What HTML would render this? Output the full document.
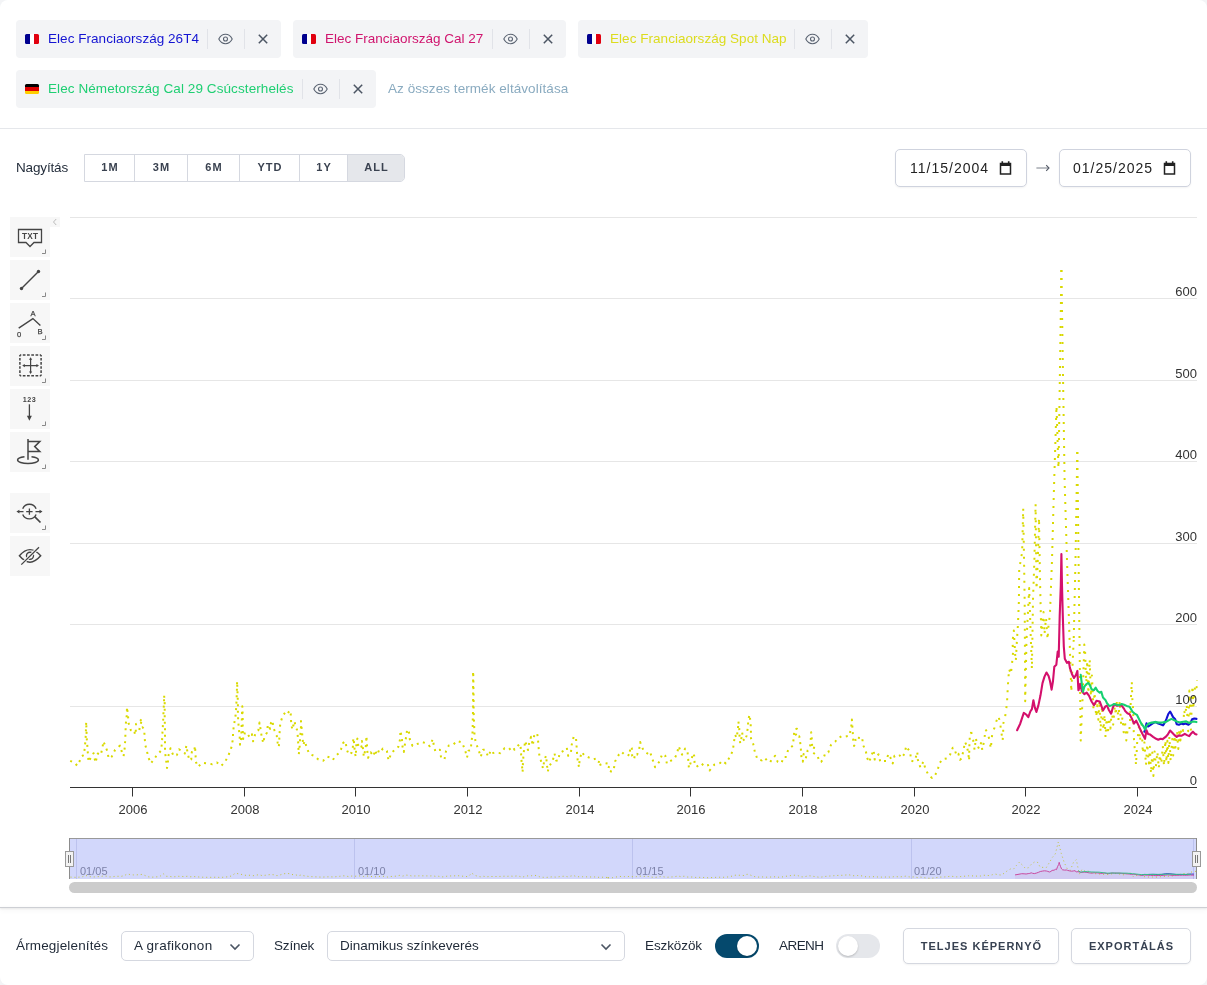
<!DOCTYPE html>
<html lang="hu">
<head>
<meta charset="utf-8">
<title>Chart</title>
<style>
*{box-sizing:border-box;margin:0;padding:0}
html,body{width:1207px;height:985px;overflow:hidden;background:#f3f4f6;font-family:"Liberation Sans",sans-serif;color:#1f2937}
#page{position:absolute;left:0;top:0;width:1207px;height:985px;background:#fff;border-radius:8px;overflow:hidden}
.abs{position:absolute}
.chip{position:absolute;height:38px;background:#f3f4f6;border-radius:4px}
.chip .flag{position:absolute;left:9px;top:14px;width:14px;height:10px;border-radius:1.5px;overflow:hidden}
.chip .lbl{position:absolute;left:32px;top:0;line-height:38px;font-size:13.5px;white-space:nowrap}
.chip .sep{position:absolute;top:9px;width:1px;height:20px;background:#e1e3e8}
.chip svg.eye{position:absolute;top:13px;width:15px;height:12px}
.chip svg.x{position:absolute;top:14px;width:10px;height:10px}
.fr{background:linear-gradient(90deg,#00008f 0,#00008f 33.3%,#fff 33.3%,#fff 66.6%,#e1000f 66.6%)}
.de{background:linear-gradient(180deg,#000 0,#000 33.3%,#dd0000 33.3%,#dd0000 66.6%,#ffce00 66.6%)}
#topline{position:absolute;left:0;top:128px;width:1207px;height:1px;background:#e5e7eb}
.lab{position:absolute;font-size:13.5px;line-height:20px;white-space:nowrap;color:#1f2937}
#zoomgrp{position:absolute;left:84px;top:154px;width:321px;height:28px;border:1px solid #d5d8e0;border-radius:0 5px 5px 0;overflow:hidden;background:#fff}
#zoomgrp div{position:absolute;top:0;height:26px;line-height:24px;text-align:center;font-size:11px;font-weight:bold;letter-spacing:1px;text-indent:1px;color:#3a4250;border-left:1px solid #d5d8e0}
#zoomgrp div:first-child{border-left:none}
.date{position:absolute;top:149px;width:132px;height:38px;border:1px solid #cfd3de;border-radius:5px;background:#fff;box-shadow:0 1px 2px rgba(0,0,0,.05)}
.date span{position:absolute;left:13px;top:0;line-height:36px;font-size:14px;letter-spacing:1px;color:#222}
.date svg{position:absolute;left:103px;top:11px;width:13px;height:14px}
.tb{position:absolute;left:10px;width:40px;height:40px;background:#f7f7f7}
.tb svg{position:absolute;left:0;top:0;width:40px;height:40px}
#bottomline{position:absolute;left:0;top:907px;width:1207px;height:1px;background:#cdcfd4;box-shadow:0 1px 2px rgba(0,0,0,.12),0 2px 5px rgba(0,0,0,.10)}
.sel{position:absolute;top:931px;height:30px;border:1px solid #d5d8e0;border-radius:5px;background:#fff;font-size:13.5px;line-height:28px;padding-left:12px;color:#1f2937;white-space:nowrap}
.sel svg{position:absolute;right:12.5px;top:10.5px;width:12px;height:8px}
.tog{position:absolute;top:934px;width:44px;height:24px;border-radius:12px}
.tog i{position:absolute;top:2px;width:20px;height:20px;border-radius:10px;background:#fff;box-shadow:0 1px 2px rgba(0,0,0,.2)}
.btn{position:absolute;top:928px;height:36px;border:1px solid #d5d8e0;border-radius:5px;background:#fff;font-size:11px;font-weight:bold;letter-spacing:1px;text-indent:1px;line-height:34px;text-align:center;color:#374151;white-space:nowrap;box-shadow:0 1px 2px rgba(0,0,0,.05)}
</style>
</head>
<body>
<div id="page">

<!-- CHIPS -->
<div class="chip" style="left:16px;top:20px;width:265px">
  <div class="flag fr"></div><div class="lbl" style="color:#1414d2;letter-spacing:.04px">Elec Franciaország 26T4</div>
  <div class="sep" style="left:191px"></div><div class="sep" style="left:228px"></div>
  <svg class="eye" style="left:202px" viewBox="0 0 15 12"><path d="M.8 6C2.3 3 4.8 1.3 7.5 1.3S12.700 3 14.2 6C12.700 9 10.2 10.700 7.500 10.700S2.300 9 .8 6Z" fill="none" stroke="#5b6472" stroke-width="1.100"/><circle cx="7.500" cy="6" r="2" fill="none" stroke="#5b6472" stroke-width="1.100"/></svg>
  <svg class="x" style="left:242px" viewBox="0 0 10 10"><path d="M.8.8 9.200 9.200M9.200.8.800 9.200" stroke="#4b5563" stroke-width="1.500" fill="none"/></svg>
</div>
<div class="chip" style="left:293px;top:20px;width:273px">
  <div class="flag fr"></div><div class="lbl" style="color:#d0146e">Elec Franciaország Cal 27</div>
  <div class="sep" style="left:199px"></div><div class="sep" style="left:236px"></div>
  <svg class="eye" style="left:210px" viewBox="0 0 15 12"><path d="M.8 6C2.3 3 4.8 1.3 7.5 1.3S12.700 3 14.2 6C12.700 9 10.2 10.700 7.500 10.700S2.300 9 .8 6Z" fill="none" stroke="#5b6472" stroke-width="1.100"/><circle cx="7.500" cy="6" r="2" fill="none" stroke="#5b6472" stroke-width="1.100"/></svg>
  <svg class="x" style="left:250px" viewBox="0 0 10 10"><path d="M.8.8 9.200 9.200M9.200.8.800 9.200" stroke="#4b5563" stroke-width="1.500" fill="none"/></svg>
</div>
<div class="chip" style="left:578px;top:20px;width:290px">
  <div class="flag fr"></div><div class="lbl" style="color:#dcdc1e;letter-spacing:.04px">Elec Franciaország Spot Nap</div>
  <div class="sep" style="left:216px"></div><div class="sep" style="left:253px"></div>
  <svg class="eye" style="left:227px" viewBox="0 0 15 12"><path d="M.8 6C2.3 3 4.8 1.3 7.5 1.3S12.700 3 14.2 6C12.700 9 10.2 10.700 7.500 10.700S2.300 9 .8 6Z" fill="none" stroke="#5b6472" stroke-width="1.100"/><circle cx="7.500" cy="6" r="2" fill="none" stroke="#5b6472" stroke-width="1.100"/></svg>
  <svg class="x" style="left:267px" viewBox="0 0 10 10"><path d="M.8.8 9.200 9.200M9.200.8.800 9.200" stroke="#4b5563" stroke-width="1.500" fill="none"/></svg>
</div>
<div class="chip" style="left:16px;top:70px;width:360px">
  <div class="flag de"></div><div class="lbl" style="color:#1fcf73;letter-spacing:.085px">Elec Németország Cal 29 Csúcsterhelés</div>
  <div class="sep" style="left:286px"></div><div class="sep" style="left:323px"></div>
  <svg class="eye" style="left:297px" viewBox="0 0 15 12"><path d="M.8 6C2.3 3 4.8 1.3 7.5 1.3S12.700 3 14.2 6C12.700 9 10.2 10.700 7.500 10.700S2.300 9 .8 6Z" fill="none" stroke="#5b6472" stroke-width="1.100"/><circle cx="7.500" cy="6" r="2" fill="none" stroke="#5b6472" stroke-width="1.100"/></svg>
  <svg class="x" style="left:337px" viewBox="0 0 10 10"><path d="M.8.8 9.200 9.200M9.200.8.800 9.200" stroke="#4b5563" stroke-width="1.500" fill="none"/></svg>
</div>
<div class="lab" id="removeall" style="left:388px;top:79px;color:#8aabc0;font-size:13.5px;letter-spacing:.06px">Az összes termék eltávolítása</div>
<div id="topline"></div>

<!-- ZOOM ROW -->
<div class="lab" id="nagy" style="left:16px;top:158px;letter-spacing:-.15px">Nagyítás</div>
<div id="zoomgrp">
  <div style="left:0;width:49px">1M</div>
  <div style="left:49px;width:53px">3M</div>
  <div style="left:102px;width:52px">6M</div>
  <div style="left:154px;width:60px">YTD</div>
  <div style="left:214px;width:48px">1Y</div>
  <div style="left:262px;width:57px;background:#e5e7eb">ALL</div>
</div>
<div class="date" style="left:895px"><span style="left:14px">11/15/2004</span>
  <svg viewBox="0 0 13 14"><path d="M1.500 2.500h10v10.500h-10z" fill="none" stroke="#222" stroke-width="1.500"/><path d="M1.500 2h10v3h-10z" fill="#222"/><path d="M3.300.3v2.500M9.700.3v2.500" stroke="#222" stroke-width="1.600"/></svg></div>
<svg class="abs" style="left:1034px;top:160px" width="18" height="16" viewBox="0 0 18 16"><path d="M2.400 8H14.600" stroke="#7b808a" stroke-width="1" fill="none"/><path d="M12.200 5.100 15 8 12.200 10.900" stroke="#555b68" stroke-width="1.100" fill="none"/></svg>
<div class="date" style="left:1059px"><span>01/25/2025</span>
  <svg viewBox="0 0 13 14"><path d="M1.500 2.500h10v10.500h-10z" fill="none" stroke="#222" stroke-width="1.500"/><path d="M1.500 2h10v3h-10z" fill="#222"/><path d="M3.300.3v2.500M9.700.3v2.500" stroke="#222" stroke-width="1.600"/></svg></div>

<!-- TOOLBAR -->
<div class="abs" style="left:50px;top:217px;width:10px;height:10px;background:#f7f7f7"><svg class="abs" style="left:0;top:0" width="10" height="10" viewBox="0 0 10 10"><path d="M6.200 2 3.500 5 6.200 8" fill="none" stroke="#bbb" stroke-width="1"/></svg></div>
<div class="tb" style="top:217px"><svg viewBox="0 0 40 40"><path d="M8.500 12.500H31.500V25.500H24L20 29.500 16 25.500H8.500Z" fill="none" stroke="#444" stroke-width="1.300" stroke-linejoin="miter"/><text x="20.100" y="22.200" font-size="8.200" font-weight="bold" text-anchor="middle" fill="#444" font-family="Liberation Sans, sans-serif" letter-spacing="0.200">TXT</text><path d="M35.500 32.500V36.500H32" fill="none" stroke="#888" stroke-width="1"/></svg></div>
<div class="tb" style="top:260px"><svg viewBox="0 0 40 40"><path d="M11.500 28.500 28.500 11.500" stroke="#444" stroke-width="1.400" fill="none"/><circle cx="11.500" cy="28.500" r="1.700" fill="#444"/><circle cx="28.500" cy="11.500" r="1.700" fill="#444"/><path d="M35.500 32.500V36.500H32" fill="none" stroke="#888" stroke-width="1"/></svg></div>
<div class="tb" style="top:303px"><svg viewBox="0 0 40 40"><path d="M8.700 25.200 22.900 15.600 30.400 22.400" stroke="#444" stroke-width="1.400" fill="none" stroke-linejoin="miter"/><g font-size="7.600" fill="#444" stroke="#444" stroke-width="0.250" font-family="Liberation Sans, sans-serif" text-anchor="middle"><text x="23" y="12.500">A</text><text x="9.100" y="33.700">0</text><text x="30.100" y="30.800">B</text></g><path d="M35.500 32.500V36.500H32" fill="none" stroke="#888" stroke-width="1"/></svg></div>
<div class="tb" style="top:346px"><svg viewBox="0 0 40 40"><path d="M9.900 9.100H31.100M9.900 29.700H31.100" fill="none" stroke="#444" stroke-width="1.500" stroke-dasharray="2.700,1.540" stroke-dashoffset="1.350"/><path d="M9.900 9.100V29.700M31.100 9.100V29.700" fill="none" stroke="#444" stroke-width="1.500" stroke-dasharray="2.600,1.520" stroke-dashoffset="1.300"/><path d="M14 19.600H27.200M20.600 13V26.200" stroke="#444" stroke-width="1.200" fill="none"/><path d="M12.200 19.600 14.800 18V21.200ZM29 19.600 26.400 18V21.200ZM20.600 11.200 19 13.800H22.200ZM20.600 28 19 25.400H22.200Z" fill="#444"/><path d="M35.500 32.500V36.500H32" fill="none" stroke="#888" stroke-width="1"/></svg></div>
<div class="tb" style="top:389px"><svg viewBox="0 0 40 40"><text x="19.600" y="12.800" font-size="7.200" font-weight="bold" text-anchor="middle" fill="#444" font-family="Liberation Sans, sans-serif" letter-spacing="0.500">123</text><path d="M19.400 15.300V28" stroke="#444" stroke-width="1.300" fill="none"/><path d="M16.900 26.800H21.900L19.400 31.800Z" fill="#444"/><path d="M35.500 32.500V36.500H32" fill="none" stroke="#888" stroke-width="1"/></svg></div>
<div class="tb" style="top:432px"><svg viewBox="0 0 40 40"><path d="M18 7.100V27.800" stroke="#444" stroke-width="1.500" fill="none"/><path d="M18 9.600H29.800L24.700 14.600 29.800 19.600H18" stroke="#444" stroke-width="1.500" fill="none" stroke-linejoin="miter"/><path d="M14.500 24.700C10.500 25.100 7.600 26.400 7.600 28 7.600 29.900 12.300 31.500 18 31.500S28.400 29.900 28.400 28C28.400 26.400 25.500 25.100 21.500 24.700" fill="none" stroke="#444" stroke-width="1.500"/><path d="M35.500 32.500V36.500H32" fill="none" stroke="#888" stroke-width="1"/></svg></div>
<div class="tb" style="top:493px"><svg viewBox="0 0 40 40"><path d="M12.700 15.700A7.300 7.300 0 0 1 26.100 15.700M26.100 21.500A7.300 7.300 0 0 1 12.700 21.500" fill="none" stroke="#444" stroke-width="1.400"/><path d="M16.200 18.600H22.600M19.400 15.400V21.800" stroke="#444" stroke-width="1.300" fill="none"/><path d="M8.500 18.600H13.500M25.500 18.600H30.500" stroke="#444" stroke-width="1.300" fill="none"/><path d="M6.400 18.600 9.400 16.700V20.500ZM32.500 18.600 29.500 16.700V20.500Z" fill="#444"/><path d="M24.900 23.900 30.500 29.500" stroke="#444" stroke-width="1.700" fill="none"/><path d="M35.500 32.500V36.500H32" fill="none" stroke="#888" stroke-width="1"/></svg></div>
<div class="tb" style="top:536px"><svg viewBox="0 0 40 40"><path d="M9.400 19.800C13 15.600 16 13.600 20 13.600S27 15.600 30.700 19.800C27 24 24 26.200 20 26.200S13 24 9.400 19.800Z" fill="none" stroke="#444" stroke-width="1.400" stroke-linejoin="miter"/><circle cx="20" cy="19.800" r="3.500" fill="none" stroke="#444" stroke-width="1.400"/><path d="M11.300 28.600 29 11.200" stroke="#f7f7f7" stroke-width="3.200" fill="none"/><path d="M11.300 28.600 29 11.200" stroke="#444" stroke-width="1.300" fill="none"/></svg></div>

<!-- CHART -->
<svg id="chart" class="abs" style="left:0;top:200px" width="1207" height="705" viewBox="0 200 1207 705" font-family="Liberation Sans, sans-serif">
<path d="M70 217.5H1197M70 298.5H1197M70 380.5H1197M70 461.5H1197M70 543.5H1197M70 624.5H1197M70 706.5H1197" stroke="#e6e6e6" stroke-width="1" fill="none"/>
<path d="M70.2 760.8 74.5 762.7 77.2 765.7 79.8 760.8 81.3 756.6 83.9 755 84.8 747.4 85.6 738.8 85.9 730.7 86.2 721.9 86.5 730.7 86.8 738.8 87.4 746.7 87.9 754.3 88.6 761.9 90.9 757.3 93.5 753.2 95.5 762.7 97.8 753.5 100.8 755 102.6 746.7 103.4 741.3 105.7 747 107.2 750.8 108.7 758.5 111.8 756.6 115.1 749.7 120.1 745.6 122.1 752.8 123.6 756.1 124.7 748.2 125.2 740.1 125.5 732.2 125.8 724.1 126.7 715.5 127 707.1 128 715.5 128.5 723.1 129.6 725.8 130.8 730.2 134.1 729.8 135.1 734.9 135.7 732.2 136.1 723.8 138.7 722.6 142.2 718.5 139.9 726.9 139.2 730.4 142.5 727.3 144.2 729.2 144.6 737.2 145.3 745.1 146.8 750.5 148.3 757.3 150.9 763.4 152.9 760.7 156.2 756.1 160.9 750.8 162 742.9 162.3 734.9 162.8 726.9 163.2 719.3 163.5 711.4 164 703.3 164.1 695.2 164.7 703.6 164.7 711.7 164.7 719.7 165 727.6 165 736 165 743.9 165 752 166.1 759.9 167 768 167.8 764.2 168.2 756.6 170.5 748.2 170.8 749.7 173.7 756.1 176.9 755 179 749.3 182.1 751.2 184.8 753.5 186.4 745.5 187.6 753.1 189.4 760.4 191.2 759.6 191.8 752 194 752.3 195 745.9 195.5 754.3 195.9 761.9 197.9 766.8 202.6 762.7 208 763.4 212.2 764.2 216.9 762.4 221 766 224.9 762.2 228.6 755 231.3 747.7 232.8 739.8 233.1 731.9 234.1 724.1 235.6 715.5 236.2 707.5 236.6 698.7 236.9 690.3 237.1 681.2 237.4 689.6 237.7 697.2 237.9 704.8 237.9 713.2 238.2 721.1 238.9 729.2 239.7 737.5 240 744.8 241.2 738.3 241.5 730.7 241.7 722.8 242 714.7 242.3 706.3 242.7 714.7 242.7 722.3 242.7 729.9 243.2 739.1 245 732.2 247.8 734.5 249.9 737.5 251.9 734.2 253.1 741.3 255.4 733.3 258.4 730.2 259.5 722.6 260.7 729.9 261.8 737.5 263.3 743.2 264.5 736.3 267.1 732.5 267.8 724.6 270.1 728.9 270.9 723.1 272.4 720.5 273.6 728.4 276.7 735.3 277.7 742.9 278.8 747 279.3 739.1 279.7 731.1 280.3 723.1 282.8 715.8 286.6 710.6 288.4 712.4 289.9 710.4 290.7 713.9 291.1 721.6 292.2 729.6 294.5 721.2 295.3 725.1 297.1 730.2 298 738.3 298.3 746.2 298.8 754.3 299.8 745.1 300.1 737.1 300.9 729.2 301 721.1 301.8 729.9 302.6 738.3 303.2 745.1 304.8 740.9 307 748.6 309.4 754 314 755.8 318.4 759.6 323.1 760.8 327.2 756.6 329.5 757.3 333 759.9 334.8 756.6 338.6 753.5 340.9 749.7 343.2 742.9 345.5 741.3 346.7 749.3 348.8 754.7 351.6 752.8 352.8 748.6 353.1 740.9 353.6 738 354.3 746.2 355.1 754 355.8 756.6 356.1 749 356.6 740.6 357.4 738.6 358.4 746.7 360 745.1 361.5 746.7 361.9 740.9 363 749 363.8 756.6 365 751.2 365.3 751.2 366.1 743.2 366.4 736 366.9 742.1 367.2 750 368.1 757.8 370.7 752.3 373.7 756.1 374.8 750 377.1 755 378.6 751.2 379.8 752.8 382.8 748.6 386.9 750.8 388.5 760.4 391.7 752.3 395 750 398.4 746.7 400.3 738.3 400.3 730.7 401.9 737.5 402.3 745.6 403.8 752 404.9 744.4 406.1 736.8 407.2 729.2 409 732.5 409.9 739.5 412.5 745.9 417.5 743.9 422.4 742.1 427 743.6 429.7 746.2 432.8 739.1 434.1 747 435.4 751.5 439.9 749.7 441.1 757.8 444.5 759.3 446 751.2 448.8 745.5 453.2 744.7 457 740.9 462 742.4 465 749.7 467 757.6 468.5 750.8 470.7 750.2 471.4 742.6 472.4 734.8 472.7 726.9 472.8 718.8 473 710.9 473.1 702.8 473.1 694.9 473.1 686.8 473.1 678.9 473.1 671.3 473.4 678.9 473.4 686.8 473.6 694.9 473.6 702.8 473.6 710.9 473.9 718.8 474.2 726.9 474.5 734.8 475.7 742.6 478.4 749.3 480.7 756.9 483 749.7 484.8 749.7 488.3 756.6 490.5 751.2 490.9 753.5 495.8 752.3 500.4 753.2 504.6 748.2 508.9 749.7 512.7 746.7 514.5 749.7 517.6 745.9 520.4 743.9 521 751.7 521.4 759.6 522.2 767.7 522.6 772.2 522.9 764.2 523.4 756.1 524.2 748.2 525.2 740.9 528 750 529 743.9 531 736.8 532.8 745.6 534.1 736 537.1 733 537.9 738.3 538.5 746.4 539.2 754.3 541.2 761.9 543 768.4 544.3 760.4 546.1 755.5 546.8 763.7 547.8 771.8 548.8 766.9 552.6 761.1 554.5 753.5 556.1 760.4 558.3 760.8 559.5 753.1 563.6 750.8 566.8 747.9 568.2 755.8 570.9 752.8 571.7 744.8 573.6 737.1 575.9 736.8 576.5 744.7 577 752.8 577.7 760.7 579 767.2 579.7 759.3 581.9 752 584.3 755.5 589.2 757.6 593.4 759.3 596.3 758.4 599.1 760.7 598 765.7 604.4 763 609.7 763.9 607.9 770.3 612 771.8 613.8 769.2 615 761.6 618.8 754.7 621.4 751.7 624.2 754.3 626.9 753.8 629.5 755.8 630.3 746.7 631.8 748.2 632.2 756.1 634.1 759.2 635.1 753.8 637.1 754.7 639.1 749.7 640.2 742.1 640.9 744.4 643.5 750.5 648.2 754 650.1 752 652.6 759.6 655.1 767.2 659.6 761.4 662.2 754 665.3 755.8 666.9 763.7 670.2 761.1 674.5 758.5 677.1 753.5 678.6 746.2 682.1 754.7 685.1 748.6 687.4 750.5 688.2 758.8 688.9 768 691.2 761.1 693 753.2 694.3 756.1 694.6 763.9 696.5 766.8 701.4 763.4 704.1 766 708 764.9 709.5 770.6 714.5 764.5 720.1 763 722.1 760.8 725.8 763.4 729.3 757.8 732.8 750.8 733.8 742.9 735.1 734.9 736.6 737.8 737.9 729.5 738.4 721.6 739.2 727.6 739.5 735.6 740.2 743.3 741 740.9 742.2 732.7 743 739.1 744.8 741 746.5 736 747.8 727.9 748.3 720 749.5 714.7 750.6 722.3 750.9 730.4 751 738.3 753.2 743.9 754.8 751.7 757.4 759.2 761.7 760.4 764.7 757.8 767.3 760.8 770.1 762.4 772.2 758.8 775.2 755.8 777.7 761.9 781.5 763 783.6 757 785.9 757 788.3 749.4 792.9 745.6 793.7 737.5 794.4 729.5 797 728.7 795.9 735.3 796.6 737.5 799.3 736.3 800.4 744.1 801.1 752 801.6 759.9 802.8 761.6 803.6 754 805.8 758.4 807.7 750.2 810 747.7 810.7 739.8 811.2 732.2 811.8 739.1 812.2 747 814.5 745.9 812.7 752.3 815.3 754.3 817.6 755.8 819.4 761.6 821.1 761.9 823.4 758.8 825.2 753.2 828.3 752.3 830.9 745.1 835.1 741.8 837.4 738.6 841.7 736.3 845.3 736.5 849.3 735.7 851.1 727.9 851.9 719.6 852.9 734.8 853.4 742.9 854.1 745.9 856.1 742.9 854.9 737.5 859.9 738 862.2 737.2 863 745.1 865.6 750 867.1 757.8 869.1 762.2 870.9 757 873.6 750 874.7 759.6 878.5 754.3 880.3 761.9 883.1 761.1 886.1 761.1 888.4 754 890.2 757 892.7 763.4 894.5 755.8 897.5 756.6 899.8 755.5 901.3 757.8 904.4 754 906.2 746.2 909 750.5 910.2 752.8 911.2 760.7 913.5 761.4 915.8 757.3 917.3 752 917.8 759.6 920.4 767.5 923.4 761.6 925.2 768 928.3 774.8 932.1 777.9 935.1 775.1 937.4 770.7 939.7 763 942.4 759.3 947 758.4 950.1 754.7 952.8 747.7 954.3 748.5 956.6 755.5 958.4 753.8 960 759.9 961.8 758.1 963.5 750 965 742.1 966.8 745.5 968.3 753.5 969.1 760.4 969.4 744.7 969.8 736.8 971.2 732" fill="none" stroke="#d9d900" stroke-width="2" stroke-dasharray="2,4.5" stroke-linejoin="round"/>
<path d="M971.2 732 973.2 740.1 974.6 750.3 975.8 738 977.3 745.2 979.3 749.2 981.3 742.1 982.3 750.3 984.4 739.1 985.4 729.3 987.8 733 989.4 740.1 990.9 748.8 991.5 740.1 992.5 732 994.5 727.9 996.5 720.8 998.6 716.1 1000.2 723.9 1001.6 734 1002.6 740.7 1003.2 733 1003.2 723.9 1005.1 716.8 1006.3 709 1007.1 700.9 1007.9 685.3 1009.1 669 1010.8 674.1 1011.8 666 1013.2 650.8 1012.4 642.6 1013.8 630.5 1015.2 654.8 1015.8 660.9 1016.9 640.6 1017.9 625.4 1018.9 601 1019.2 569 1022.1 552.5 1023.2 508.5 1024 556.9 1024.7 604.4 1025.2 701.3 1026.5 640 1029.2 588 1030.5 630 1031.9 668.9 1033 600 1034.4 560 1035.6 504 1036.5 589 1037.8 560 1039 518 1040 580 1041.3 635.4 1043.5 612 1044.5 634 1046 618 1047.6 639.4 1048.6 624 1049.9 615.6 1052 560 1054 487 1056.5 406 1058.5 470" fill="none" stroke="#d9d900" stroke-width="2" stroke-dasharray="2,6" stroke-linejoin="round"/>
<path d="M1061.4 270 1058.5 470" fill="none" stroke="#d9d900" stroke-width="2" stroke-dasharray="2,6" stroke-linejoin="round"/>
<path d="M1061.4 270 1063.1 381.7 1064.6 480 1067 560 1069.8 646 1071.3 691.8 1073.7 640" fill="none" stroke="#d9d900" stroke-width="2" stroke-dasharray="2,6" stroke-linejoin="round"/>
<path d="M1077.3 452 1075.5 560 1073.7 640" fill="none" stroke="#d9d900" stroke-width="2" stroke-dasharray="2,6" stroke-linejoin="round"/>
<path d="M1077.3 452 1078.8 580 1080.7 740.6 1082.5 700 1084.3 644.6 1085.2 653.2 1086.2 686.5 1087.2 660.7 1088.4 693.5 1089.7 659.6 1090.9 696.4 1091.9 675.4 1093.5 710 1094.5 692.4 1096.2 717 1097.4 705.2 1098.3 719.8 1099.5 700.5 1100.5 731.5 1102 706.1 1103.4 730 1104.6 714.6 1105.5 737.2 1106.6 718.4 1107.8 734.1 1109.2 717.8 1110.4 728.6 1111.8 710.2 1113.2 724.6 1114.8 706 1115.9 715.1 1116.9 700.2 1118.4 720.2 1119.7 700.9 1121.1 724.6 1122.5 717.4 1123.6 732.3 1125 720.5 1126.3 740.4 1127.9 728.1 1129.4 729.5 1130 722 1130.8 700 1131.8 681.6 1132.4 700 1133 708 1134 740 1136 765 1137.2 742 1138.9 727.2 1140 740.9 1141.6 723.6 1142.8 753.3 1144.4 742.4 1146 765.1 1147.2 744 1148.9 763.4 1149.9 746.7 1151 773.5 1152.3 752.5 1153.4 776 1154.6 751.4 1155.9 766.3 1157.4 751.8 1158.8 768.3 1159.7 754.6 1161.3 763.7 1162.8 745.9 1164 766 1165.4 740.1 1166.4 762.3 1167.4 740.7 1168.4 763 1169.4 736.6 1170.6 761 1172.2 739.1 1173.2 755.4 1174.4 735.4 1175.4 747.6 1177.1 732.9 1178.3 748.9 1179.3 728.7 1180.4 740.4 1181.5 723 1183.1 731 1184.1 710 1185.1 714.9 1186.7 704.4 1188.2 731.2 1189.4 690.6 1190.9 729.7 1192.4 686 1193.5 705.4 1195.2 684.1 1196.7 687.3 1197 680" fill="none" stroke="#d9d900" stroke-width="2" stroke-dasharray="2,6" stroke-linejoin="round"/>
<path d="M1144.3 731.7 1145 730.2 1146.5 723.3 1148 726.5 1150.2 725.1 1152.4 723.6 1155.3 721.8 1158.3 723.6 1160.5 724.3 1163 725.4 1164.2 723.6 1166.4 719.2 1168.3 714 1170.1 711.5 1171.5 714 1173 717 1175.2 719.2 1176.7 724.3 1178.9 724.8 1181.1 723.6 1183.3 724.3 1185.5 723.6 1188.5 724.8 1190.7 722.9 1192.1 719.2 1194.3 718.5 1196.5 718.9" fill="none" stroke="#1212d4" stroke-width="2.1" stroke-linejoin="round" stroke-linecap="round"/>
<path d="M1017.1 730.2 1020.2 723.7 1022.2 717.6 1023.8 712.9 1026.2 714.5 1028.3 717.2 1030.3 711.5 1031.9 709.1 1033.4 700.3 1034.8 707.4 1036.4 711.9 1038.4 705.4 1040.5 695.3 1042.5 683.1 1044.5 676.6 1046.5 672.5 1048.6 676 1050 681 1051.6 689.6 1053 681 1054.3 666.8 1056.3 664.8 1057.7 651.6 1058.7 656.7 1059.7 616.1 1060.8 585.6 1061.4 554.1 1062 585.6 1062.8 616.1 1063.8 646.5 1064.8 658.7 1066.9 662.8 1068.9 661.8 1069.9 667.8 1071.9 673.9 1074 678 1076 674.9 1077.4 670.9 1078.4 690.2 1078.6 690.2 1080.2 683.7 1081.8 691 1084.3 694.2 1086.7 692.6 1089.1 695.9 1091.6 701.5 1094 705.1 1096.5 700.7 1099.7 701.5 1101.3 705.6 1103 710.5 1105.4 706.4 1107 705.6 1108.7 709.7 1111.1 713.7 1112.7 708 1114.3 704 1116.8 705.6 1119.2 705.1 1121.7 705.6 1124.1 708.9 1125.2 711.1 1127.4 713.3 1129.6 714.3 1131.8 718.5 1134 723.6 1136.2 720.7 1138.4 725.1 1140.6 730.2 1142.8 734.6 1145 738.8 1146.5 730.2 1148 733.9 1150.2 734.6 1153.1 736.9 1156.1 738.8 1158.3 739.8 1160.5 738.8 1162.7 739.1 1165.6 736.9 1167.8 734.6 1170.1 730.5 1172.3 732.7 1174.5 735.1 1176.7 736.9 1178.9 735.4 1181.8 735.7 1184.8 733.9 1187 735.1 1189.2 736.1 1191.4 733.2 1192.9 731.7 1195.1 733.9 1196.5 734.4" fill="none" stroke="#d4106c" stroke-width="2.1" stroke-linejoin="round" stroke-linecap="round"/>
<path d="M1080.7 674.7 1081.8 683.7 1083 691.8 1084.3 686.9 1085.9 684.5 1088.3 682.8 1090 685.3 1091.6 689.3 1094 690.2 1095.7 687.7 1097.6 691 1099.7 692.6 1101.3 691.8 1103 697.5 1105.4 699.9 1107 703.2 1109.5 706.1 1111.9 705.1 1114.3 704 1116.8 704.8 1119.2 705.1 1121.7 704 1124.1 704.8 1126.6 705.9 1129.6 706.7 1132.5 711.8 1134.7 713.6 1136.9 714.8 1139.1 719.2 1141.3 723.6 1143.6 726.5 1145 729.5 1146.5 725.8 1148.7 723.6 1151.7 722.6 1155.3 722.1 1159 722.6 1162.7 722.4 1165.6 722.1 1168.6 720.4 1171.5 718.9 1174.5 720.4 1177.4 721.7 1180.4 722.4 1183.3 721.8 1186.2 721.4 1189.2 722.9 1191.4 722.1 1193.6 721.4 1196.5 722.1" fill="none" stroke="#16d070" stroke-width="2.1" stroke-linejoin="round" stroke-linecap="round"/>
<path d="M70 787.5H1197M132.5 787.5V796.5M244.5 787.5V796.5M355.5 787.5V796.5M467.5 787.5V796.5M579.5 787.5V796.5M690.5 787.5V796.5M802.5 787.5V796.5M914.5 787.5V796.5M1025.5 787.5V796.5M1137.5 787.5V796.5" stroke="#333" stroke-width="1" fill="none"/>
<g font-size="13" fill="#333" text-anchor="middle"><text x="133" y="814">2006</text><text x="245" y="814">2008</text><text x="356" y="814">2010</text><text x="468" y="814">2012</text><text x="580" y="814">2014</text><text x="691" y="814">2016</text><text x="803" y="814">2018</text><text x="915" y="814">2020</text><text x="1026" y="814">2022</text><text x="1138" y="814">2024</text></g>
<g font-size="13" fill="#333" text-anchor="end"><text x="1197" y="296">600</text><text x="1197" y="378">500</text><text x="1197" y="459">400</text><text x="1197" y="541">300</text><text x="1197" y="622">200</text><text x="1197" y="704">100</text><text x="1197" y="785">0</text></g>
<rect x="69" y="838" width="1128" height="41" fill="#d2d7fb"/>
<path d="M76.500 838V879M354.500 838V879M632.500 838V879M911.500 838V879M1193.500 838V879" stroke="#bcc2ee" stroke-width="1" fill="none"/>
<path d="M1015 874.9 1018 874.4 1020.1 874 1021.7 873.7 1024.1 873.8 1026.1 874 1028.2 873.6 1029.8 873.4 1031.2 872.8 1032.6 873.3 1034.3 873.6 1036.3 873.1 1038.3 872.4 1040.3 871.5 1042.4 871.1 1044.4 870.8 1046.4 871 1047.8 871.4 1049.4 872 1050.9 871.4 1052.1 870.4 1054.1 870.2 1055.5 869.3 1056.5 869.6 1057.5 866.7 1058.6 864.6 1059.2 862.3 1059.8 864.6 1060.6 866.7 1061.6 868.9 1062.6 869.8 1064.6 870.1 1066.7 870 1067.7 870.4 1069.7 870.9 1071.7 871.2 1073.8 870.9 1075.2 870.7 1076.2 872 1076.3 872 1078 871.6 1079.6 872.1 1082 872.3 1084.5 872.2 1086.9 872.4 1089.3 872.9 1091.8 873.1 1094.2 872.8 1097.4 872.9 1099.1 873.1 1100.7 873.5 1103.1 873.2 1104.7 873.1 1106.4 873.4 1108.8 873.7 1110.4 873.3 1112 873 1114.5 873.1 1116.9 873.1 1119.3 873.1 1121.8 873.4 1122.8 873.5 1125 873.7 1127.2 873.8 1129.4 874.1 1131.6 874.4 1133.8 874.2 1136 874.5 1138.2 874.9 1140.4 875.2 1142.6 875.5 1144.1 874.9 1145.6 875.2 1147.8 875.2 1150.7 875.4 1153.7 875.5 1155.9 875.6 1158.1 875.5 1160.3 875.5 1163.2 875.4 1165.4 875.2 1167.6 874.9 1169.8 875.1 1172 875.3 1174.2 875.4 1176.4 875.3 1179.4 875.3 1182.3 875.2 1184.5 875.3 1186.7 875.3 1188.9 875.1 1190.4 875 1192.6 875.2 1194 875.2L1194 879L1015 879Z" fill="#d4106c" fill-opacity="0.06" stroke="none"/>
<path d="M70.5 877.1 73.5 877.2 76.5 877.4 79.5 877.1 82.5 876.7 85.5 875.2 88.5 876.6 91.5 876.8 94.4 876.9 97.4 876.6 100.4 876.7 103.4 875.9 106.4 876.2 109.4 876.9 112.4 876.8 115.4 876.3 121.4 876.3 124.4 875.6 127.4 873.8 130.4 874.7 133.4 874.9 136.4 874.9 139.3 874.6 142.3 874.4 145.3 875.6 148.3 876.8 151.3 877.2 157.3 876.8 160.3 876.1 163.3 873.7 166.3 876.3 169.3 876.4 172.3 876.8 175.3 876.7 178.3 876.3 181.3 876.4 184.2 876.6 187.2 876.3 190.2 876.8 193.2 876.5 196.2 876.8 202.2 877.2 208.2 877.3 211.2 877.3 217.2 877.2 220.2 877.5 223.2 877.2 229.1 876.7 232.1 875.6 235.1 873.3 238.1 873.7 241.1 874.3 244.1 875.3 247.1 875.2 250.1 875.3 253.1 875.7 256.1 875.1 259.1 874.7 262.1 875.6 265.1 875.3 268.1 874.8 271.1 874.5 274 874.8 277 875.7 280 875 283 873.9 286 873.5 289 873.6 292 874.6 295 874.4 298 875.8 301 875 304 875.8 307 876.2 310 876.6 313 876.7 318.9 877 321.9 877.1 327.9 876.8 333.9 876.9 336.9 876.6 339.9 876.3 342.9 875.8 345.9 876 348.9 876.7 351.9 876 354.9 876.3 357.9 875.9 360.9 876 363.8 876.5 366.8 876 369.8 876.5 372.8 876.5 375.8 876.7 378.8 876.5 381.8 876.2 384.8 876.4 387.8 877.1 390.8 876.5 393.8 876.3 396.8 876.1 399.8 875.3 402.8 876.1 405.8 875.1 408.7 875.3 411.7 876 417.7 875.9 420.7 875.8 426.7 875.9 429.7 876 432.7 875.8 435.7 876.4 438.7 876.3 441.7 876.9 444.7 876.7 447.7 876 453.6 875.9 456.6 875.7 459.6 875.8 465.6 876.6 468.6 876.4 471.6 873 474.6 875.2 477.6 876.3 480.6 876.8 483.6 876.3 486.6 876.8 489.6 876.5 495.6 876.5 498.5 876.5 504.5 876.2 507.5 876.3 510.5 876.1 513.5 876.3 516.5 876 519.5 876.4 522.5 877.2 525.5 876 528.5 875.9 531.5 875.7 534.5 875.3 537.5 875.8 540.5 877.2 543.4 877.3 546.4 877.4 552.4 876.8 555.4 877.1 558.4 876.8 561.4 876.4 564.4 876.2 567.4 876.7 570.4 876.2 573.4 875.4 576.4 876.8 579.4 876.7 582.4 876.7 588.3 876.9 591.3 877 594.3 876.9 597.3 877.3 603.3 877.2 609.3 877.6 606.3 877.8 612.3 877.7 615.3 877.1 618.3 876.7 621.3 876.4 624.3 876.6 627.3 876.7 630.3 876.3 633.2 876.8 636.2 876.7 639.2 876 642.2 876.4 648.2 876.5 651.2 877 654.2 877.5 657.2 877.1 660.2 876.6 663.2 876.7 666.2 877.3 669.2 877.1 672.2 876.9 675.2 876.6 678.1 876 681.1 876.7 684.1 876.2 687.1 877 690.1 877.1 693.1 876.9 696.1 877.5 699.1 877.3 702.1 877.5 705.1 877.4 708.1 877.8 714.1 877.4 720.1 877.2 723 877.3 729 876.9 732 876.1 735 875.2 738 875.2 741 875.3 744 875.5 747 874.2 750 874.9 753 876.2 756 877 759 877.1 762 876.9 765 877.1 767.9 877.2 770.9 877 773.9 876.7 776.9 877.2 779.9 877.2 782.9 876.8 785.9 876.3 791.9 875.4 794.9 875.2 797.9 875.6 800.9 876.8 803.9 876.9 806.9 876.2 809.9 875.8 812.8 876.3 815.8 876.7 818.8 877.2 821.8 877 824.8 876.5 827.8 876.2 833.8 875.7 836.8 875.5 839.8 875.3 842.8 875.3 848.8 874.7 851.8 875.6 854.8 875.8 857.7 875.5 860.7 875.7 863.7 876.3 866.7 877 869.7 876.8 872.7 876.7 875.7 876.6 878.7 877.2 881.7 877.1 884.7 877.1 887.7 876.7 890.7 877.3 893.7 876.7 896.7 876.7 899.7 876.9 902.6 876.6 905.6 876.2 908.6 876.8 911.6 877.1 914.6 876.8 917.6 877.6 920.6 877.1 923.6 877.6 926.6 878.1 929.6 878.3 932.6 878.1 935.6 877.8 938.6 877.2 941.6 877 944.6 876.9 947.5 876.7 950.5 876.2 953.5 876.5 956.5 876.8 959.5 876.9 962.5 876 965.5 876.3 968.5 875.8 971.5 876 974.5 875.7 977.5 876.3 980.5 876 983.5 875.2 986.5 875.4 989.5 875.6 992.4 874.7 995.4 874.1 998.4 874.8 1001.4 875.1 1004.4 873 1007.4 870.7 1010.4 869 1013.4 869.3 1016.4 865.5 1019.4 862.2 1022.4 865.1 1025.4 868.4 1028.4 867.7 1031.4 864.2 1034.4 862.1 1037.3 861.9 1040.3 867.3 1043.3 867.4 1046.3 867.5 1049.3 862.7 1052.3 857.5 1055.3 854 1058.3 842 1061.3 853.5 1064.3 862.7 1067.3 868.9 1070.3 870.3 1073.3 862.7 1076.3 859.6 1079.3 874.2 1082.2 869.1 1085.2 871.3 1088.2 871.1 1091.2 872.8 1094.2 873.5 1097.2 874 1100.2 874 1103.2 874.4 1106.2 874.6 1109.2 874.1 1112.2 873.8 1115.2 873.5 1118.2 873.7 1121.2 874.5 1124.2 874.9 1127.1 874 1130.1 872.5 1133.1 876.5 1136.1 875.4 1139.1 875.5 1142.1 875.8 1145.1 876.9 1148.1 877 1151.1 877 1154.1 877 1157.1 877.1 1160.1 876.7 1163.1 876.8 1166.1 876.1 1169.1 876.3 1172 876 1175 875.7 1178 874.9 1181 874.2 1184 873.4 1187 874 1190 872.4 1193 871.7 1196 871.3" fill="none" stroke="#c4c43c" stroke-width="1" stroke-dasharray="1,3"/>
<path d="M1141.9 875 1144.1 874.4 1147.8 874.5 1152.9 874.3 1158.1 874.5 1161.7 874.4 1165.8 873.7 1169.1 873.7 1172.8 874.1 1176.4 874.5 1180.8 874.5 1186 874.5 1189.6 874.1 1194 874.1" fill="none" stroke="#3a3acb" stroke-width="1"/>
<path d="M1015 874.9 1018 874.4 1020.1 874 1021.7 873.7 1024.1 873.8 1026.1 874 1028.2 873.6 1029.8 873.4 1031.2 872.8 1032.6 873.3 1034.3 873.6 1036.3 873.1 1038.3 872.4 1040.3 871.5 1042.4 871.1 1044.4 870.8 1046.4 871 1047.8 871.4 1049.4 872 1050.9 871.4 1052.1 870.4 1054.1 870.2 1055.5 869.3 1056.5 869.6 1057.5 866.7 1058.6 864.6 1059.2 862.3 1059.8 864.6 1060.6 866.7 1061.6 868.9 1062.6 869.8 1064.6 870.1 1066.7 870 1067.7 870.4 1069.7 870.9 1071.7 871.2 1073.8 870.9 1075.2 870.7 1076.2 872 1076.3 872 1078 871.6 1079.6 872.1 1082 872.3 1084.5 872.2 1086.9 872.4 1089.3 872.9 1091.8 873.1 1094.2 872.8 1097.4 872.9 1099.1 873.1 1100.7 873.5 1103.1 873.2 1104.7 873.1 1106.4 873.4 1108.8 873.7 1110.4 873.3 1112 873 1114.5 873.1 1116.9 873.1 1119.3 873.1 1121.8 873.4 1122.8 873.5 1125 873.7 1127.2 873.8 1129.4 874.1 1131.6 874.4 1133.8 874.2 1136 874.5 1138.2 874.9 1140.4 875.2 1142.6 875.5 1144.1 874.9 1145.6 875.2 1147.8 875.2 1150.7 875.4 1153.7 875.5 1155.9 875.6 1158.1 875.5 1160.3 875.5 1163.2 875.4 1165.4 875.2 1167.6 874.9 1169.8 875.1 1172 875.3 1174.2 875.4 1176.4 875.3 1179.4 875.3 1182.3 875.2 1184.5 875.3 1186.7 875.3 1188.9 875.1 1190.4 875 1192.6 875.2 1194 875.2" fill="none" stroke="#c94aa0" stroke-width="1"/>
<path d="M1078.4 870.9 1080.7 872.2 1083.6 871.6 1087.7 871.7 1091.8 872 1095.3 872.1 1099.1 872.2 1103.1 872.7 1107.2 873.2 1112 873 1116.9 873.1 1121.8 873.1 1127.2 873.2 1132.4 873.7 1136.8 874.1 1141.2 874.6 1144.1 874.6 1149.2 874.4 1156.6 874.4 1163.2 874.3 1169.1 874.1 1175 874.3 1180.8 874.3 1186.7 874.4 1191.1 874.3" fill="none" stroke="#35c08a" stroke-width="1"/>
<path d="M69 838.5H1197" stroke="#999" stroke-width="1" fill="none"/>
<path d="M69.500 838V879M1196.500 838V879" stroke="#8c8c8c" stroke-width="1" fill="none"/>
<g font-size="11" fill="#7d82a8"><text x="80" y="875">01/05</text><text x="358" y="875">01/10</text><text x="636" y="875">01/15</text><text x="914" y="875">01/20</text></g>
<rect x="65.5" y="851.5" width="8" height="15" fill="#f2f2f2" stroke="#999" stroke-width="1"/>
<path d="M68.5 855V863M70.5 855V863" stroke="#777" stroke-width="1" fill="none"/>
<rect x="1192.5" y="851.5" width="8" height="15" fill="#f2f2f2" stroke="#999" stroke-width="1"/>
<path d="M1195.5 855V863M1197.5 855V863" stroke="#777" stroke-width="1" fill="none"/>
<rect x="69" y="882" width="1128" height="11" rx="5.5" fill="#cccccc"/>
</svg>

<!-- BOTTOM -->
<div id="bottomline"></div>
<div class="lab" id="armeg" style="left:16px;top:936px;letter-spacing:.15px">Ármegjelenítés</div>
<div class="sel" style="left:121px;width:133px;letter-spacing:.28px">A grafikonon<svg viewBox="0 0 12 8"><path d="M1.500 1.500 6 6l4.500-4.500" fill="none" stroke="#4b5563" stroke-width="1.600"/></svg></div>
<div class="lab" id="szinek" style="left:274px;top:936px;letter-spacing:-.18px">Színek</div>
<div class="sel" style="left:327px;width:298px">Dinamikus színkeverés<svg viewBox="0 0 12 8"><path d="M1.500 1.500 6 6l4.500-4.500" fill="none" stroke="#4b5563" stroke-width="1.600"/></svg></div>
<div class="lab" id="eszk" style="left:645px;top:936px;letter-spacing:-.1px">Eszközök</div>
<div class="tog" style="left:715px;background:#05496d"><i style="left:22px"></i></div>
<div class="lab" id="arenh" style="left:779px;top:936px;letter-spacing:-.55px">ARENH</div>
<div class="tog" style="left:836px;background:#e5e7eb"><i style="left:2px"></i></div>
<div class="btn" style="left:903px;width:156px">TELJES KÉPERNYŐ</div>
<div class="btn" style="left:1071px;width:120px">EXPORTÁLÁS</div>

</div>
</body>
</html>
